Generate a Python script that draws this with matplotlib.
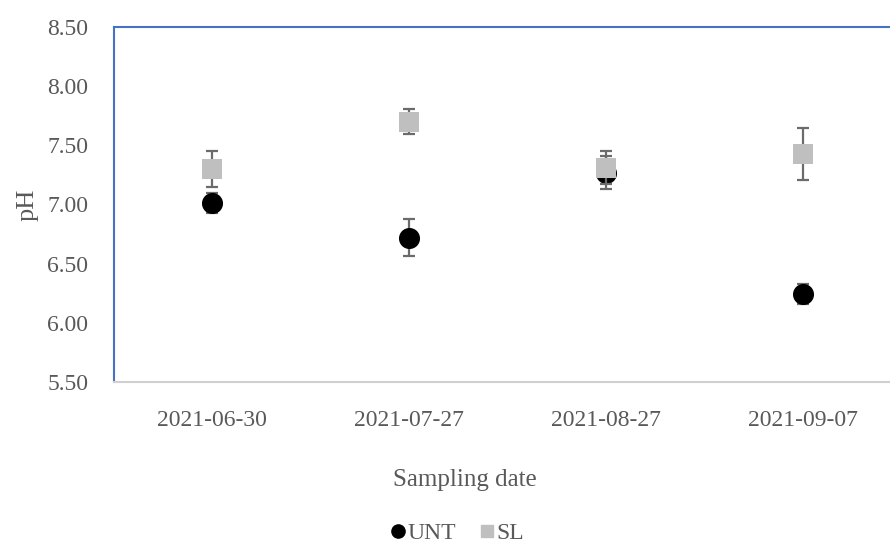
import matplotlib
matplotlib.use("Agg")
import matplotlib.pyplot as plt
from matplotlib.lines import Line2D

dates = ["2021-06-30", "2021-07-27", "2021-08-27", "2021-09-07"]
unt_mean = [7.01, 6.72, 7.27, 6.24]
unt_err = [0.085, 0.155, 0.14, 0.085]
sl_mean = [7.30, 7.70, 7.31, 7.43]
sl_err = [0.15, 0.105, 0.14, 0.22]
yticks = [5.5, 6.0, 6.5, 7.0, 7.5, 8.0, 8.5]

plt.rcParams['font.family'] = ['Liberation Serif', 'DejaVu Serif']
txt = '#595959'

fig = plt.figure(figsize=(8.9, 5.45), dpi=100)
W, H = 890, 545
left, right, top, bottom = 114, 901, 27, 382
ax = fig.add_axes([left / W, 1 - bottom / H, (right - left) / W, (bottom - top) / H])

x = list(range(len(dates)))
ebc = '#6b6b6b'
ax.errorbar(x, unt_mean, yerr=unt_err, fmt='none', ecolor=ebc, elinewidth=1.6,
            capsize=4.3, capthick=1.6, zorder=2)
ax.scatter(x, unt_mean, s=200, marker='o', color='black', zorder=3)
ax.errorbar(x, sl_mean, yerr=sl_err, fmt='none', ecolor=ebc, elinewidth=1.6,
            capsize=4.3, capthick=1.6, zorder=4)
ax.scatter(x, sl_mean, s=190, marker='s', color='#bfbfbf', zorder=5, linewidths=0)

ax.set_xlim(-0.5, 3.5)
ax.set_ylim(5.5, 8.5)
ax.set_yticks(yticks)
ax.set_yticklabels([f"{v:.2f}" for v in yticks])
ax.set_xticks(x)
ax.set_xticklabels(dates)
ax.tick_params(axis='both', length=0, labelsize=17, colors=txt)
ax.tick_params(axis='x', pad=20)
ax.tick_params(axis='y', pad=18.5)

for s in ['left', 'top']:
    ax.spines[s].set_color('#4472c4')
    ax.spines[s].set_linewidth(1.5)
ax.spines['right'].set_visible(False)
ax.spines['bottom'].set_color('#d0d0d0')
ax.spines['bottom'].set_linewidth(1.5)

fig.text(465 / W, 1 - 480 / H, "Sampling date", ha='center', va='center', fontsize=18, color=txt)
fig.text(28 / W, 1 - 205 / H, "pH", ha='center', va='center', fontsize=19, color=txt, rotation=90)

handles = [Line2D([], [], marker='o', color='black', linestyle='none', markersize=9.5),
           Line2D([], [], marker='s', color='#bfbfbf', linestyle='none', markersize=9)]
fig.legend(handles, ["UNT", "SL"], loc='center', bbox_to_anchor=(455 / W, 1 - 533 / H),
           ncol=2, frameon=False, fontsize=17, labelcolor=txt, handletextpad=-0.1,
           columnspacing=0.8, handlelength=1.0)

fig.savefig("out.png", dpi=100)
